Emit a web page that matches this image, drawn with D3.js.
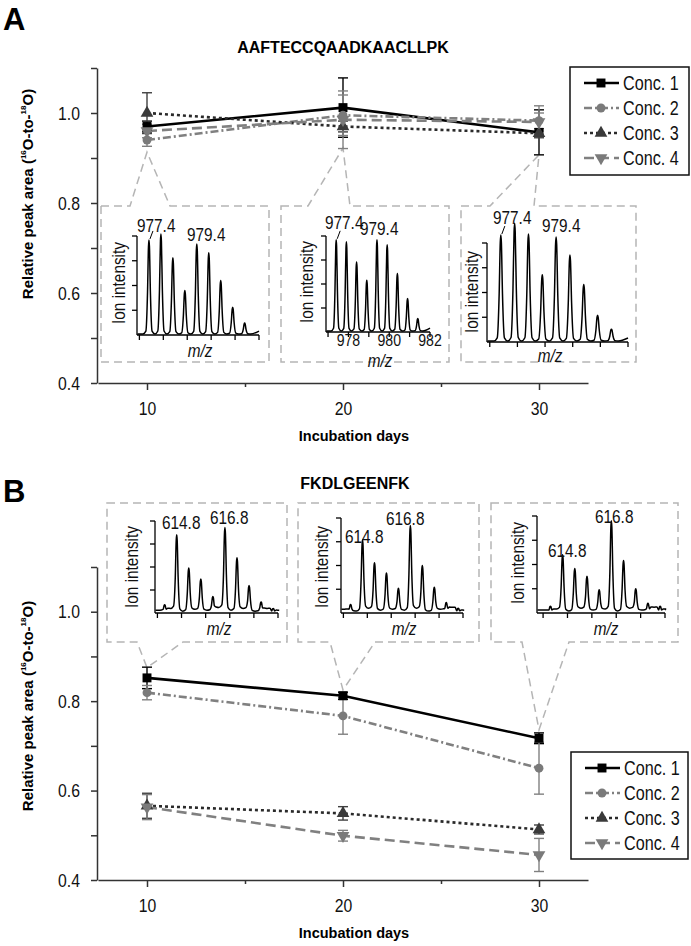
<!DOCTYPE html>
<html><head><meta charset="utf-8">
<script src="https://cdn.jsdelivr.net/npm/d3@7"></script>
<style>body{margin:0;background:#fff}</style>
</head><body>
<svg id="chart" width="691" height="946"></svg>
<script>
// ---------------- DATA ----------------
const days = [10, 20, 30];
const seriesNames = ["Conc. 1", "Conc. 2", "Conc. 3", "Conc. 4"];
const yTicks = [0.4, 0.5, 0.6, 0.7, 0.8, 0.9, 1.0, 1.1];
const yTickLabels = ["0.4", "", "0.6", "", "0.8", "", "1.0", ""];
const xTicks = [10, 15, 20, 25, 30];
const xTickLabels = ["10", "", "20", "", "30"];

// Panel A: AAFTECCQAADKAACLLPK
const conc1A = [0.970, 1.012, 0.957];
const conc2A = [0.940, 0.995, 0.983];
const conc3A = [1.000, 0.970, 0.955];
const conc4A = [0.960, 0.985, 0.980];
const err1A = [0.012, 0.066, 0.050];
const err2A = [0.014, 0.045, 0.033];
const err3A = [0.045, 0.012, 0.010];
const err4A = [0.015, 0.064, 0.020];
const calloutAnchorA = [0.913, 0.922, 0.907];

// Panel B: FKDLGEENFK
const conc1B = [0.852, 0.812, 0.717];
const conc2B = [0.819, 0.767, 0.650];
const conc3B = [0.566, 0.549, 0.513];
const conc4B = [0.563, 0.499, 0.456];
const err1B = [0.024, 0.008, 0.012];
const err2B = [0.016, 0.041, 0.058];
const err3B = [0.028, 0.015, 0.010];
const err4B = [0.028, 0.012, 0.037];
const calloutAnchorB = [0.875, 0.825, 0.736];

// Inset spectra: isotope peak heights (relative), 0.5 m/z spacing
const peakMzA = [977.4, 977.9, 978.4, 978.9, 979.4, 979.9, 980.4, 980.9, 981.4];
const specA10 = [0.96, 1.02, 0.78, 0.45, 0.92, 0.83, 0.55, 0.28, 0.12];
const specA20 = [0.96, 0.94, 0.73, 0.54, 0.96, 0.91, 0.61, 0.35, 0.14];
const specA30 = [1.08, 1.20, 1.09, 0.68, 1.06, 0.88, 0.58, 0.27, 0.13];
const peakMzB = [614.3, 614.8, 615.3, 615.8, 616.3, 616.8, 617.3, 617.8, 618.3, 618.8];
const specB10 = [0.09, 0.85, 0.49, 0.37, 0.18, 0.93, 0.60, 0.30, 0.12, 0.05];
const specB20 = [0.09, 0.77, 0.53, 0.42, 0.26, 0.92, 0.50, 0.27, 0.11, 0.05];
const specB30 = [0.07, 0.60, 0.46, 0.38, 0.24, 0.95, 0.54, 0.25, 0.10, 0.07];
const noiseB10 = [0.03, 0.05, 0.02, 0.04, 0.03, 0.06, 0.03, 0.05, 0.02, 0.05, 0.03];
const noiseB20 = [0.04, 0.02, 0.05, 0.03, 0.04, 0.03, 0.05, 0.02, 0.04, 0.06, 0.03];
const noiseB30 = [0.03, 0.04, 0.02, 0.05, 0.03, 0.04, 0.02, 0.05, 0.03, 0.06, 0.04];
const mzTicksA = [977, 978, 979, 980, 981, 982];
const mzTicksB = [614, 615, 616, 617, 618, 619];
const mzTickLabelsA20 = ["978", "980", "982"];

// ---------------- STYLE ----------------
const SANS = "'Liberation Sans',Arial,sans-serif";
const NX = 0.83; // horizontal condensing to imitate a narrow face
const sColor = ["#000000", "#808080", "#2a2a2a", "#808080"];
const sMarkFill = ["#000000", "#7a7a7a", "#3a3a3a", "#7a7a7a"];
const sErr = ["#000000", "#808080", "#404040", "#808080"];
const sDash = [null, "8,3,2,3", "3,3", "10,5"];
const sSymbol = [d3.symbolSquare, d3.symbolCircle, d3.symbolTriangle, d3.symbolTriangle];
const sSymSize = [80, 62, 70, 70];
const sRot = [0, 0, 0, 180];

const svg = d3.select("#chart");

function ntext(parent, x, y, str, size, anchor, rot) {
  return parent.append("text")
    .attr("transform", `translate(${x},${y})${rot ? " rotate(" + rot + ")" : ""} scale(${NX},1)`)
    .attr("text-anchor", anchor || "start").text(str)
    .attr("font-family", SANS).attr("font-size", size).attr("fill", "#111");
}

function drawPanel(cfg) {
  const g = svg.append("g");
  const x = d3.scaleLinear([7.5, 32.5], [98, 588]);
  const y = d3.scaleLinear([0.4, 1.1], [cfg.base, cfg.top]);

  g.append("text").attr("x", 3).attr("y", cfg.letterY).text(cfg.letter)
    .attr("font-family", SANS).attr("font-weight", "bold").attr("font-size", 31);
  g.append("text").attr("x", cfg.titleX).attr("y", cfg.titleY).attr("text-anchor", "middle")
    .text(cfg.title).attr("font-family", SANS).attr("font-weight", "bold").attr("font-size", 16);

  // y axis
  const ya = g.append("g").attr("transform", "translate(97,0)")
    .call(d3.axisLeft(y).tickValues(yTicks).tickSize(6).tickSizeOuter(0).tickPadding(11)
      .tickFormat((d, i) => yTickLabels[i]));
  ya.selectAll("text").attr("font-family", SANS).attr("font-size", 19).attr("fill", "#111")
    .attr("x", null).attr("transform", `translate(-17,0) scale(${NX},1)`);
  ya.selectAll("line,path").attr("stroke", "#333").attr("stroke-width", 1.5);
  // x axis
  const xa = g.append("g").attr("transform", `translate(0,${cfg.base})`)
    .call(d3.axisBottom(x).tickValues(xTicks).tickSize(7).tickSizeOuter(0).tickPadding(12)
      .tickFormat((d, i) => xTickLabels[i]));
  xa.selectAll("text").attr("font-family", SANS).attr("font-size", 19).attr("fill", "#111")
    .attr("transform", `scale(${NX},1)`);
  xa.selectAll("line,path").attr("stroke", "#333").attr("stroke-width", 1.5);
  xa.selectAll(".tick line").attr("y2", (d, i) => xTickLabels[i] ? 7 : 4);

  // axis titles
  g.append("text").attr("x", cfg.xTitleX).attr("y", cfg.base + 58).attr("text-anchor", "middle")
    .text("Incubation days").attr("font-family", SANS).attr("font-weight", "bold").attr("font-size", 14.5);
  const yt = g.append("text").attr("transform", `translate(33,${cfg.yTitleY}) rotate(-90)`)
    .attr("text-anchor", "middle").attr("font-family", SANS).attr("font-weight", "bold").attr("font-size", 15);
  yt.append("tspan").text("Relative peak area (");
  yt.append("tspan").text("16").attr("font-size", 8).attr("dy", -7);
  yt.append("tspan").text("O-to-").attr("dy", 7);
  yt.append("tspan").text("18").attr("font-size", 8).attr("dy", -7);
  yt.append("tspan").text("O)").attr("dy", 7);

  // callouts + insets
  cfg.insets.forEach((ins, k) => {
    const ax = x(days[k]), ay = y(cfg.anchor[k]);
    const [x0, x1, t, b] = ins.box;
    const [lx, rx] = ins.notch;
    const p = cfg.notchTop
      ? `M${x0},${t}L${lx},${t}L${ax},${ay}L${rx},${t}L${x1},${t}L${x1},${b}L${x0},${b}Z`
      : `M${x0},${t}L${x1},${t}L${x1},${b}L${rx},${b}L${ax},${ay}L${lx},${b}L${x0},${b}Z`;
    g.append("path").attr("d", p).attr("fill", "none").attr("stroke", "#b5b5b5")
      .attr("stroke-width", 1.5).attr("stroke-dasharray", "8,5");
    drawSpectrum(g, ins);
  });

  // series: error bars, lines, markers
  cfg.series.forEach((s, i) => {
    days.forEach((d, j) => {
      const v = s.v[j], e = s.e[j];
      const eg = g.append("g").attr("stroke", sErr[i]).attr("stroke-width", 1.4);
      eg.append("line").attr("x1", x(d)).attr("x2", x(d)).attr("y1", y(v - e)).attr("y2", y(v + e));
      [v - e, v + e].forEach(w => eg.append("line")
        .attr("x1", x(d) - 5).attr("x2", x(d) + 5).attr("y1", y(w)).attr("y2", y(w)));
    });
  });
  cfg.series.forEach((s, i) => {
    const pts = days.map((d, j) => ({ d, v: s.v[j] }));
    g.append("path").datum(pts).attr("fill", "none").attr("stroke", sColor[i]).attr("stroke-width", 2.6)
      .attr("stroke-dasharray", sDash[i]).attr("d", d3.line().x(p => x(p.d)).y(p => y(p.v)));
  });
  cfg.series.forEach((s, i) => {
    days.forEach((d, j) => {
      g.append("path").attr("d", d3.symbol(sSymbol[i], sSymSize[i])())
        .attr("transform", `translate(${x(d)},${y(s.v[j])}) rotate(${sRot[i]})`).attr("fill", sMarkFill[i]);
    });
  });

  // legend
  const [lx0, lx1, ly0, ly1] = cfg.legend;
  g.append("rect").attr("x", lx0).attr("y", ly0).attr("width", lx1 - lx0).attr("height", ly1 - ly0)
    .attr("fill", "white").attr("stroke", "#111").attr("stroke-width", 1.5);
  seriesNames.forEach((n, i) => {
    const ry = ly0 + 16 + i * 25;
    g.append("line").attr("x1", lx0 + 14).attr("x2", lx0 + 49).attr("y1", ry).attr("y2", ry)
      .attr("stroke", sColor[i]).attr("stroke-width", 2.6).attr("stroke-dasharray", sDash[i]);
    g.append("path").attr("d", d3.symbol(sSymbol[i], sSymSize[i])())
      .attr("transform", `translate(${lx0 + 31},${ry}) rotate(${sRot[i]})`).attr("fill", sMarkFill[i]);
    ntext(g, lx0 + 53, ry + 7, n, 19.5);
  });
}

function drawSpectrum(g, ins) {
  const a = ins.axis;
  const sx = d3.scaleLinear(ins.domain, [a.x0, a.x1]);
  const sy = d3.scaleLinear([0, 1], [a.base, a.top]);
  const pts = [];
  const nz = ins.noise || [];
  const bl = i => (nz.length ? nz[i] : 0.01);
  pts.push([ins.domain[0] + 0.02, bl(0)]);
  ins.mz.forEach((m, i) => {
    const h = ins.h[i];
    pts.push([m - 0.25, bl(i)]);
    pts.push([m - 0.13, bl(i) + 0.03 * h]);
    pts.push([m - 0.06, 0.45 * h]);
    pts.push([m - 0.02, 0.93 * h]);
    pts.push([m, h]);
    pts.push([m + 0.02, 0.93 * h]);
    pts.push([m + 0.06, 0.45 * h]);
    pts.push([m + 0.13, bl(i + 1) + 0.03 * h]);
  });
  pts.push([ins.mz[ins.mz.length - 1] + 0.25, bl(ins.mz.length)]);
  pts.push([ins.domain[1], nz.length ? 0.03 : 0.04]);
  g.append("path").datum(pts).attr("fill", "none").attr("stroke", "#000").attr("stroke-width", 1.5)
    .attr("d", d3.line().x(p => sx(p[0])).y(p => sy(p[1])).curve(d3.curveMonotoneX));
  const ag = g.append("g").attr("stroke", "#000").attr("stroke-width", 1.3);
  ag.append("line").attr("x1", a.x0).attr("x2", a.x0).attr("y1", a.top).attr("y2", a.base);
  ag.append("line").attr("x1", a.x0).attr("x2", a.x1).attr("y1", a.base).attr("y2", a.base);
  [0.25, 0.5, 0.75, 1].forEach(v => ag.append("line").attr("x1", a.x0 - 5).attr("x2", a.x0)
    .attr("y1", sy(v)).attr("y2", sy(v)));
  ins.ticks.forEach(t => ag.append("line").attr("x1", sx(t)).attr("x2", sx(t))
    .attr("y1", a.base).attr("y2", a.base + 5));
  if (ins.tickLabels) ins.tickLabels.forEach(t => ntext(g, sx(+t), a.base + 14, t, 17, "middle"));
  ins.labels.forEach(l => ntext(g, l[1], l[2], l[0], 18.5));
  if (ins.leader) g.append("line").attr("x1", sx(ins.mz[0]) + 1).attr("y1", sy(ins.h[0]) - 1)
    .attr("x2", sx(ins.mz[0]) + 4).attr("y2", sy(ins.h[0]) - 9).attr("stroke", "#000").attr("stroke-width", 1);
  ntext(g, ins.ion[0], ins.ion[1], "Ion intensity", 18.5, "middle", -90).attr("dominant-baseline", "central");
  ntext(g, ins.mzLabel[0], ins.mzLabel[1], "m/z", 18.5, "middle").attr("font-style", "italic");
}

drawPanel({
  letter: "A", letterY: 30, title: "AAFTECCQAADKAACLLPK", titleX: 343, titleY: 53,
  top: 68, base: 383, xTitleX: 354, yTitleY: 194, anchor: calloutAnchorA, notchTop: true,
  legend: [570, 689, 67, 175],
  series: [{ v: conc1A, e: err1A }, { v: conc2A, e: err2A }, { v: conc3A, e: err3A }, { v: conc4A, e: err4A }],
  insets: [
    { box: [101, 269, 206, 362], notch: [130, 170], axis: { x0: 137, x1: 259, top: 236, base: 335 },
      domain: [976.9, 982], mz: peakMzA, h: specA10, ticks: mzTicksA, leader: true,
      labels: [["977.4", 137, 232], ["979.4", 187, 241]], ion: [119, 283], mzLabel: [200, 357] },
    { box: [281, 449, 206, 362], notch: [308, 350], axis: { x0: 326, x1: 430, top: 236, base: 332 },
      domain: [976.9, 982], mz: peakMzA, h: specA20, ticks: mzTicksA, tickLabels: mzTickLabelsA20, leader: true,
      labels: [["977.4", 325, 229], ["979.4", 360, 235]], ion: [307, 282], mzLabel: [380, 367] },
    { box: [461, 636, 206, 362], notch: [490, 534], axis: { x0: 487, x1: 628, top: 243, base: 342 },
      domain: [976.9, 982], mz: peakMzA, h: specA30, ticks: mzTicksA, leader: true,
      labels: [["977.4", 493, 224], ["979.4", 542, 232]], ion: [472, 292], mzLabel: [550, 362] }
  ]
});

drawPanel({
  letter: "B", letterY: 502, title: "FKDLGEENFK", titleX: 355, titleY: 489,
  top: 567, base: 880, xTitleX: 354, yTitleY: 706, anchor: calloutAnchorB, notchTop: false,
  legend: [571, 688, 752, 859],
  series: [{ v: conc1B, e: err1B }, { v: conc2B, e: err2B }, { v: conc3B, e: err3B }, { v: conc4B, e: err4B }],
  insets: [
    { box: [107, 287, 503, 642], notch: [137, 183], axis: { x0: 155, x1: 278, top: 521, base: 613 },
      domain: [613.9, 619], mz: peakMzB, h: specB10, noise: noiseB10, ticks: mzTicksB,
      labels: [["614.8", 162, 529], ["616.8", 210, 524]], ion: [132, 567], mzLabel: [219, 635] },
    { box: [298, 479, 503, 642], notch: [330, 375], axis: { x0: 341, x1: 463, top: 518, base: 613 },
      domain: [613.9, 619], mz: peakMzB, h: specB20, noise: noiseB20, ticks: mzTicksB,
      labels: [["614.8", 345, 543], ["616.8", 386, 525]], ion: [322, 567], mzLabel: [404, 635] },
    { box: [491, 678, 503, 642], notch: [522, 569], axis: { x0: 537, x1: 665, top: 516, base: 613 },
      domain: [613.75, 619], mz: peakMzB, h: specB30, noise: noiseB30, ticks: mzTicksB,
      labels: [["614.8", 548, 557], ["616.8", 595, 523]], ion: [518, 563], mzLabel: [606, 635] }
  ]
});
</script>
</body></html>
